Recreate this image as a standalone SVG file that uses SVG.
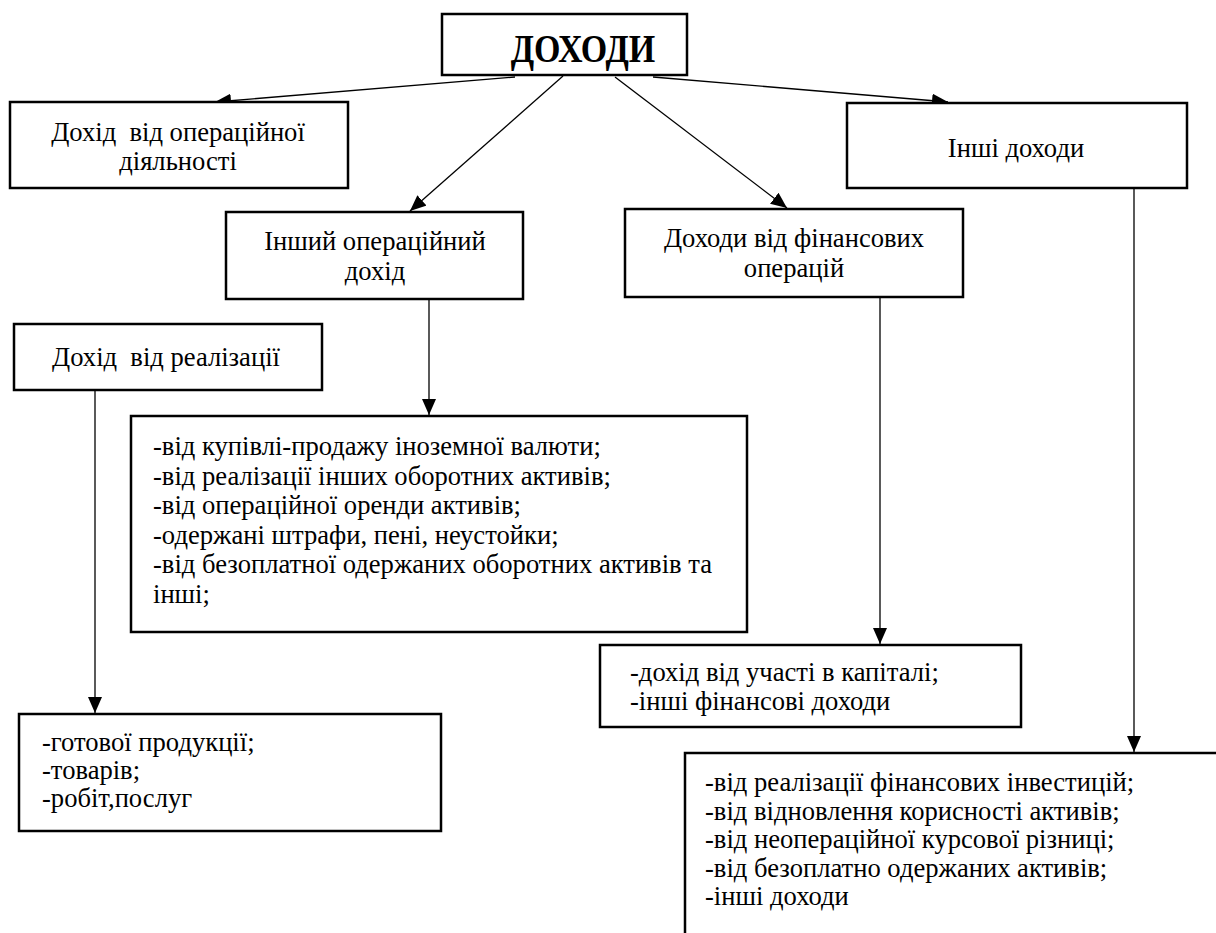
<svg xmlns="http://www.w3.org/2000/svg" width="1216" height="933" viewBox="0 0 1216 933">
  <style>
    .box { fill: #ffffff; stroke: #000000; stroke-width: 2.5; }
    .t { font-family: "Liberation Serif", "Times New Roman", serif; font-size: 26.6px; fill: #000000; }
    .c { text-anchor: middle; }
    .title { font-family: "Liberation Serif", "Times New Roman", serif; font-size: 34px; font-weight: bold; fill: #000000; text-anchor: middle; }
    .link { fill: none; stroke: #000000; stroke-width: 1.3; marker-end: url(#arrow); }
  </style>
  <defs>
    <marker id="arrow" viewBox="0 0 16 14" refX="16" refY="7" markerWidth="16" markerHeight="14" markerUnits="userSpaceOnUse" orient="auto">
      <path d="M0,0 L16,7 L0,14 Z" fill="#000000"/>
    </marker>
  </defs>
  <rect width="1216" height="933" fill="#ffffff"/>

  <!-- connectors -->
  <g id="connectors">
    <line class="link" x1="515" y1="77" x2="215" y2="102"/>
    <line class="link" x1="563" y1="76" x2="410" y2="211"/>
    <line class="link" x1="615" y1="77" x2="787" y2="208"/>
    <line class="link" x1="653" y1="77" x2="948" y2="102"/>
    <line class="link" x1="429" y1="300" x2="429" y2="415"/>
    <line class="link" x1="880" y1="298" x2="880" y2="644"/>
    <line class="link" x1="95" y1="391" x2="95" y2="713"/>
    <line class="link" x1="1134" y1="189" x2="1134" y2="752"/>
  </g>

  <g id="root">
    <rect class="box" x="442" y="14" width="245" height="61"/>
    <text class="title" transform="translate(583,62) scale(1,1.2)" x="0" y="0">ДОХОДИ</text>
  </g>

  <g id="operating">
    <rect class="box" x="10" y="102" width="338" height="86"/>
    <text class="t c" x="178" y="141" xml:space="preserve">Дохід  від операційної</text>
    <text class="t c" x="178" y="170">діяльності</text>
  </g>

  <g id="other-income">
    <rect class="box" x="847" y="103" width="340" height="85"/>
    <text class="t c" x="1016" y="157">Інші доходи</text>
  </g>

  <g id="other-operating">
    <rect class="box" x="226" y="212" width="297" height="87"/>
    <text class="t c" x="375" y="250">Інший операційний</text>
    <text class="t c" x="375" y="280">дохід</text>
  </g>

  <g id="financial">
    <rect class="box" x="625" y="209" width="338" height="88"/>
    <text class="t c" x="794" y="247">Доходи від фінансових</text>
    <text class="t c" x="794" y="277">операцій</text>
  </g>

  <g id="sales">
    <rect class="box" x="14" y="324" width="308" height="66"/>
    <text class="t c" x="166" y="366" xml:space="preserve">Дохід  від реалізації</text>
  </g>

  <g id="other-operating-list">
    <rect class="box" x="131" y="416" width="616" height="216"/>
    <text class="t" x="153" y="455">-від купівлі-продажу іноземної валюти;</text>
    <text class="t" x="153" y="484.5">-від реалізації інших оборотних активів;</text>
    <text class="t" x="153" y="514">-від операційної оренди активів;</text>
    <text class="t" x="153" y="543.5">-одержані штрафи, пені, неустойки;</text>
    <text class="t" x="153" y="573">-від безоплатної одержаних оборотних активів та</text>
    <text class="t" x="153" y="602.5">інші;</text>
  </g>

  <g id="financial-list">
    <rect class="box" x="600" y="645" width="421" height="82"/>
    <text class="t" x="630" y="681">-дохід від участі в капіталі;</text>
    <text class="t" x="630" y="710">-інші фінансові доходи</text>
  </g>

  <g id="sales-list">
    <rect class="box" x="19" y="714" width="422" height="117"/>
    <text class="t" x="42" y="751">-готової продукції;</text>
    <text class="t" x="42" y="779">-товарів;</text>
    <text class="t" x="42" y="807">-робіт,послуг</text>
  </g>

  <g id="other-income-list">
    <rect class="box" x="685" y="753" width="560" height="200"/>
    <text class="t" x="705" y="791">-від реалізації фінансових інвестицій;</text>
    <text class="t" x="705" y="819.5">-від відновлення корисності активів;</text>
    <text class="t" x="705" y="848">-від неопераційної курсової різниці;</text>
    <text class="t" x="705" y="876.5">-від безоплатно одержаних активів;</text>
    <text class="t" x="705" y="905">-інші доходи</text>
  </g>
</svg>
